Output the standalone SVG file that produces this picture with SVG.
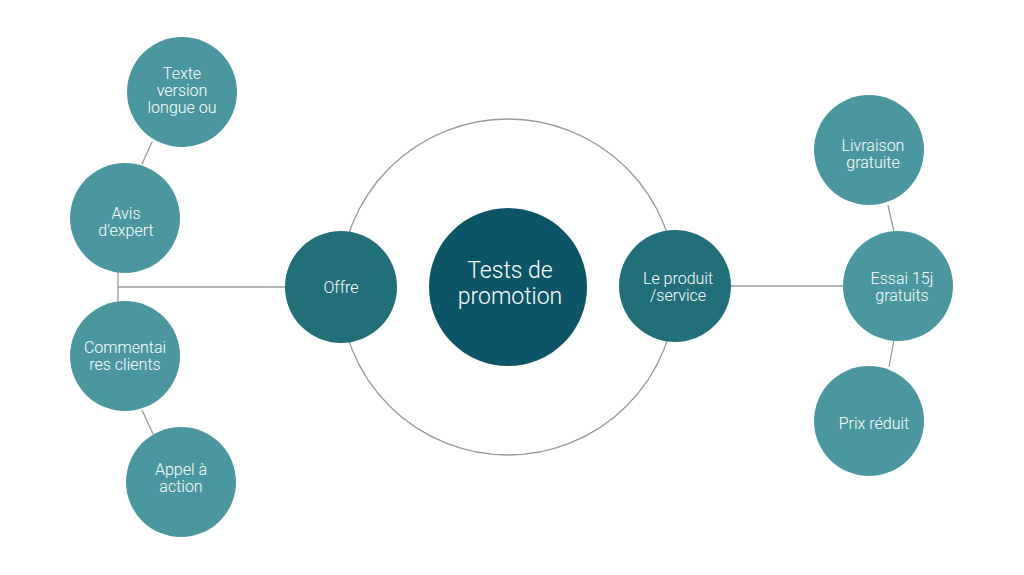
<svg xmlns="http://www.w3.org/2000/svg" width="1024" height="575" viewBox="0 0 1024 575">
<style>
.bg{fill:#ffffff}
.ln{stroke:#9a9a9a;stroke-width:1.3;fill:none}
.ring{stroke:#9a9a9a;stroke-width:1.3;fill:#ffffff}
.outer{fill:#4a979f}
.mid{fill:#216f79}
.core{fill:#0c5566}
text{font-family:Roboto,"Liberation Sans",sans-serif;font-weight:300;fill:#ffffff;text-anchor:middle}
.t{font-size:16px}
.tc{font-size:23px}
</style>
<rect class="bg" x="0" y="0" width="1024" height="575"/>
<g id="connectors">
<circle class="ring" cx="508" cy="287" r="168"/>
<line class="ln" x1="152" y1="142" x2="142" y2="164"/>
<polyline class="ln" points="118,272 118,287 287,287"/>
<line class="ln" x1="118" y1="287" x2="118" y2="302"/>
<line class="ln" x1="142" y1="410" x2="153" y2="434"/>
<line class="ln" x1="729" y1="286" x2="844" y2="286"/>
<line class="ln" x1="888" y1="205" x2="894" y2="232"/>
<line class="ln" x1="894" y1="340" x2="889" y2="367"/>
</g>
<g id="node-center">
<circle class="core" cx="508" cy="287" r="79"/>
<text class="tc" x="510" y="278">Tests de</text>
<text class="tc" x="510" y="304">promotion</text>
</g>
<g id="node-offre">
<circle class="mid" cx="341" cy="287" r="56"/>
<text class="t" x="341" y="293">Offre</text>
</g>
<g id="node-produit">
<circle class="mid" cx="675" cy="286" r="56"/>
<text class="t" x="678" y="284">Le produit</text>
<text class="t" x="678" y="301">/service</text>
</g>
<g id="node-texte">
<circle class="outer" cx="182" cy="92" r="55"/>
<text class="t" x="182" y="79">Texte</text>
<text class="t" x="182" y="96">version</text>
<text class="t" x="182" y="113">longue ou</text>
</g>
<g id="node-avis">
<circle class="outer" cx="125" cy="218" r="55"/>
<text class="t" x="126" y="219">Avis</text>
<text class="t" x="126" y="236">d'expert</text>
</g>
<g id="node-commentaires">
<circle class="outer" cx="125" cy="356" r="55"/>
<text class="t" x="125" y="353">Commentai</text>
<text class="t" x="125" y="370">res clients</text>
</g>
<g id="node-appel">
<circle class="outer" cx="181" cy="482" r="55"/>
<text class="t" x="181" y="475">Appel à</text>
<text class="t" x="181" y="492">action</text>
</g>
<g id="node-livraison">
<circle class="outer" cx="869" cy="150" r="55"/>
<text class="t" x="873" y="151">Livraison</text>
<text class="t" x="873" y="168">gratuite</text>
</g>
<g id="node-essai">
<circle class="outer" cx="898" cy="286" r="55"/>
<text class="t" x="902" y="284">Essai 15j</text>
<text class="t" x="902" y="301">gratuits</text>
</g>
<g id="node-prix">
<circle class="outer" cx="869" cy="421" r="55"/>
<text class="t" x="874" y="429">Prix réduit</text>
</g>
</svg>
